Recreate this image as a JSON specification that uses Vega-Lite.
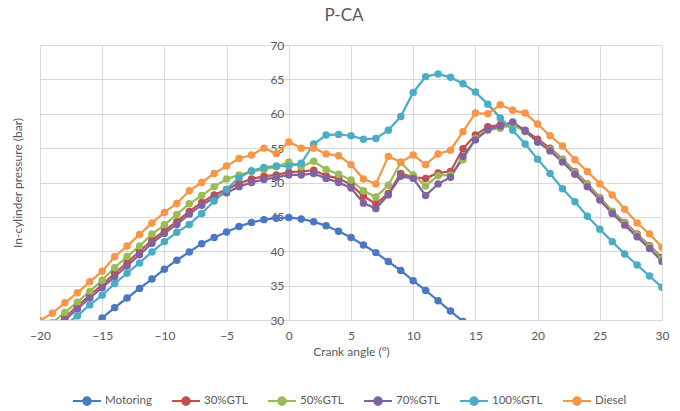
{
  "$schema": "https://vega.github.io/schema/vega-lite/v6.json",
  "width": 622,
  "height": 275,
  "autosize": {"type": "none"},
  "padding": {"left": 40, "top": 45, "right": 18, "bottom": 91},
  "background": "white",
  "config": {"view": {"stroke": null}, "font": "Lato"},
  "title": {"text": "P-CA", "fontSize": 17, "fontWeight": "normal", "color": "#595959", "dx": -7, "offset": 14, "anchor": "middle"},
  "datasets": {
    "pressure": [
      {"series": "Motoring", "angle": -16, "pressure": 28.9},
      {"series": "Motoring", "angle": -15, "pressure": 30.3},
      {"series": "Motoring", "angle": -14, "pressure": 31.8},
      {"series": "Motoring", "angle": -13, "pressure": 33.2},
      {"series": "Motoring", "angle": -12, "pressure": 34.6},
      {"series": "Motoring", "angle": -11, "pressure": 35.95},
      {"series": "Motoring", "angle": -10, "pressure": 37.4},
      {"series": "Motoring", "angle": -9, "pressure": 38.7},
      {"series": "Motoring", "angle": -8, "pressure": 39.9},
      {"series": "Motoring", "angle": -7, "pressure": 41.1},
      {"series": "Motoring", "angle": -6, "pressure": 42.0},
      {"series": "Motoring", "angle": -5, "pressure": 42.8},
      {"series": "Motoring", "angle": -4, "pressure": 43.6},
      {"series": "Motoring", "angle": -3, "pressure": 44.2},
      {"series": "Motoring", "angle": -2, "pressure": 44.6},
      {"series": "Motoring", "angle": -1, "pressure": 44.8},
      {"series": "Motoring", "angle": 0, "pressure": 44.9},
      {"series": "Motoring", "angle": 1, "pressure": 44.7},
      {"series": "Motoring", "angle": 2, "pressure": 44.3},
      {"series": "Motoring", "angle": 3, "pressure": 43.7},
      {"series": "Motoring", "angle": 4, "pressure": 42.9},
      {"series": "Motoring", "angle": 5, "pressure": 42.0},
      {"series": "Motoring", "angle": 6, "pressure": 40.9},
      {"series": "Motoring", "angle": 7, "pressure": 39.8},
      {"series": "Motoring", "angle": 8, "pressure": 38.5},
      {"series": "Motoring", "angle": 9, "pressure": 37.2},
      {"series": "Motoring", "angle": 10, "pressure": 35.7},
      {"series": "Motoring", "angle": 11, "pressure": 34.3},
      {"series": "Motoring", "angle": 12, "pressure": 32.8},
      {"series": "Motoring", "angle": 13, "pressure": 31.3},
      {"series": "Motoring", "angle": 14, "pressure": 29.8},
      {"series": "Motoring", "angle": 15, "pressure": 28.3},

      {"series": "30%GTL", "angle": -19, "pressure": 28.9},
      {"series": "30%GTL", "angle": -18, "pressure": 30.4},
      {"series": "30%GTL", "angle": -17, "pressure": 32.0},
      {"series": "30%GTL", "angle": -16, "pressure": 33.6},
      {"series": "30%GTL", "angle": -15, "pressure": 35.1},
      {"series": "30%GTL", "angle": -14, "pressure": 36.8},
      {"series": "30%GTL", "angle": -13, "pressure": 38.3},
      {"series": "30%GTL", "angle": -12, "pressure": 40.0},
      {"series": "30%GTL", "angle": -11, "pressure": 41.6},
      {"series": "30%GTL", "angle": -10, "pressure": 43.0},
      {"series": "30%GTL", "angle": -9, "pressure": 44.3},
      {"series": "30%GTL", "angle": -8, "pressure": 45.8},
      {"series": "30%GTL", "angle": -7, "pressure": 47.1},
      {"series": "30%GTL", "angle": -6, "pressure": 48.2},
      {"series": "30%GTL", "angle": -5, "pressure": 49.0},
      {"series": "30%GTL", "angle": -4, "pressure": 49.9},
      {"series": "30%GTL", "angle": -3, "pressure": 50.5},
      {"series": "30%GTL", "angle": -2, "pressure": 50.9},
      {"series": "30%GTL", "angle": -1, "pressure": 51.1},
      {"series": "30%GTL", "angle": 0, "pressure": 51.5},
      {"series": "30%GTL", "angle": 1, "pressure": 51.6},
      {"series": "30%GTL", "angle": 2, "pressure": 51.8},
      {"series": "30%GTL", "angle": 3, "pressure": 51.0},
      {"series": "30%GTL", "angle": 4, "pressure": 50.6},
      {"series": "30%GTL", "angle": 5, "pressure": 49.7},
      {"series": "30%GTL", "angle": 6, "pressure": 48.0},
      {"series": "30%GTL", "angle": 7, "pressure": 46.9},
      {"series": "30%GTL", "angle": 8, "pressure": 48.4},
      {"series": "30%GTL", "angle": 9, "pressure": 51.3},
      {"series": "30%GTL", "angle": 10, "pressure": 50.75},
      {"series": "30%GTL", "angle": 11, "pressure": 50.6},
      {"series": "30%GTL", "angle": 12, "pressure": 51.4},
      {"series": "30%GTL", "angle": 13, "pressure": 51.6},
      {"series": "30%GTL", "angle": 14, "pressure": 54.9},
      {"series": "30%GTL", "angle": 15, "pressure": 56.9},
      {"series": "30%GTL", "angle": 16, "pressure": 58.1},
      {"series": "30%GTL", "angle": 17, "pressure": 58.4},
      {"series": "30%GTL", "angle": 18, "pressure": 58.6},
      {"series": "30%GTL", "angle": 19, "pressure": 57.6},
      {"series": "30%GTL", "angle": 20, "pressure": 56.3},
      {"series": "30%GTL", "angle": 21, "pressure": 55.0},
      {"series": "30%GTL", "angle": 22, "pressure": 53.4},
      {"series": "30%GTL", "angle": 23, "pressure": 51.6},
      {"series": "30%GTL", "angle": 24, "pressure": 49.8},
      {"series": "30%GTL", "angle": 25, "pressure": 47.8},
      {"series": "30%GTL", "angle": 26, "pressure": 45.8},
      {"series": "30%GTL", "angle": 27, "pressure": 44.2},
      {"series": "30%GTL", "angle": 28, "pressure": 42.5},
      {"series": "30%GTL", "angle": 29, "pressure": 40.8},
      {"series": "30%GTL", "angle": 30, "pressure": 39.1},

      {"series": "50%GTL", "angle": -19, "pressure": 29.6},
      {"series": "50%GTL", "angle": -18, "pressure": 31.1},
      {"series": "50%GTL", "angle": -17, "pressure": 32.6},
      {"series": "50%GTL", "angle": -16, "pressure": 34.15},
      {"series": "50%GTL", "angle": -15, "pressure": 35.8},
      {"series": "50%GTL", "angle": -14, "pressure": 37.6},
      {"series": "50%GTL", "angle": -13, "pressure": 39.25},
      {"series": "50%GTL", "angle": -12, "pressure": 40.75},
      {"series": "50%GTL", "angle": -11, "pressure": 42.5},
      {"series": "50%GTL", "angle": -10, "pressure": 43.85},
      {"series": "50%GTL", "angle": -9, "pressure": 45.35},
      {"series": "50%GTL", "angle": -8, "pressure": 46.9},
      {"series": "50%GTL", "angle": -7, "pressure": 48.1},
      {"series": "50%GTL", "angle": -6, "pressure": 49.4},
      {"series": "50%GTL", "angle": -5, "pressure": 50.5},
      {"series": "50%GTL", "angle": -4, "pressure": 51.1},
      {"series": "50%GTL", "angle": -3, "pressure": 51.6},
      {"series": "50%GTL", "angle": -2, "pressure": 51.9},
      {"series": "50%GTL", "angle": -1, "pressure": 52.3},
      {"series": "50%GTL", "angle": 0, "pressure": 53.0},
      {"series": "50%GTL", "angle": 1, "pressure": 52.3},
      {"series": "50%GTL", "angle": 2, "pressure": 53.1},
      {"series": "50%GTL", "angle": 3, "pressure": 51.9},
      {"series": "50%GTL", "angle": 4, "pressure": 51.2},
      {"series": "50%GTL", "angle": 5, "pressure": 50.35},
      {"series": "50%GTL", "angle": 6, "pressure": 48.8},
      {"series": "50%GTL", "angle": 7, "pressure": 47.9},
      {"series": "50%GTL", "angle": 8, "pressure": 49.6},
      {"series": "50%GTL", "angle": 9, "pressure": 52.9},
      {"series": "50%GTL", "angle": 10, "pressure": 51.1},
      {"series": "50%GTL", "angle": 11, "pressure": 49.5},
      {"series": "50%GTL", "angle": 12, "pressure": 51.0},
      {"series": "50%GTL", "angle": 13, "pressure": 51.1},
      {"series": "50%GTL", "angle": 14, "pressure": 53.3},
      {"series": "50%GTL", "angle": 15, "pressure": 56.4},
      {"series": "50%GTL", "angle": 16, "pressure": 57.6},
      {"series": "50%GTL", "angle": 17, "pressure": 57.9},
      {"series": "50%GTL", "angle": 18, "pressure": 58.4},
      {"series": "50%GTL", "angle": 19, "pressure": 57.4},
      {"series": "50%GTL", "angle": 20, "pressure": 55.9},
      {"series": "50%GTL", "angle": 21, "pressure": 54.8},
      {"series": "50%GTL", "angle": 22, "pressure": 53.3},
      {"series": "50%GTL", "angle": 23, "pressure": 51.5},
      {"series": "50%GTL", "angle": 24, "pressure": 49.7},
      {"series": "50%GTL", "angle": 25, "pressure": 47.7},
      {"series": "50%GTL", "angle": 26, "pressure": 45.8},
      {"series": "50%GTL", "angle": 27, "pressure": 44.1},
      {"series": "50%GTL", "angle": 28, "pressure": 42.4},
      {"series": "50%GTL", "angle": 29, "pressure": 40.7},
      {"series": "50%GTL", "angle": 30, "pressure": 38.9},

      {"series": "70%GTL", "angle": -19, "pressure": 28.4},
      {"series": "70%GTL", "angle": -18, "pressure": 30.0},
      {"series": "70%GTL", "angle": -17, "pressure": 31.6},
      {"series": "70%GTL", "angle": -16, "pressure": 33.2},
      {"series": "70%GTL", "angle": -15, "pressure": 34.7},
      {"series": "70%GTL", "angle": -14, "pressure": 36.3},
      {"series": "70%GTL", "angle": -13, "pressure": 37.85},
      {"series": "70%GTL", "angle": -12, "pressure": 39.5},
      {"series": "70%GTL", "angle": -11, "pressure": 41.15},
      {"series": "70%GTL", "angle": -10, "pressure": 42.6},
      {"series": "70%GTL", "angle": -9, "pressure": 43.9},
      {"series": "70%GTL", "angle": -8, "pressure": 45.4},
      {"series": "70%GTL", "angle": -7, "pressure": 46.7},
      {"series": "70%GTL", "angle": -6, "pressure": 47.8},
      {"series": "70%GTL", "angle": -5, "pressure": 48.5},
      {"series": "70%GTL", "angle": -4, "pressure": 49.4},
      {"series": "70%GTL", "angle": -3, "pressure": 50.0},
      {"series": "70%GTL", "angle": -2, "pressure": 50.45},
      {"series": "70%GTL", "angle": -1, "pressure": 50.75},
      {"series": "70%GTL", "angle": 0, "pressure": 51.1},
      {"series": "70%GTL", "angle": 1, "pressure": 51.1},
      {"series": "70%GTL", "angle": 2, "pressure": 51.3},
      {"series": "70%GTL", "angle": 3, "pressure": 50.6},
      {"series": "70%GTL", "angle": 4, "pressure": 50.0},
      {"series": "70%GTL", "angle": 5, "pressure": 49.2},
      {"series": "70%GTL", "angle": 6, "pressure": 47.0},
      {"series": "70%GTL", "angle": 7, "pressure": 46.2},
      {"series": "70%GTL", "angle": 8, "pressure": 48.2},
      {"series": "70%GTL", "angle": 9, "pressure": 50.9},
      {"series": "70%GTL", "angle": 10, "pressure": 50.6},
      {"series": "70%GTL", "angle": 11, "pressure": 48.1},
      {"series": "70%GTL", "angle": 12, "pressure": 49.8},
      {"series": "70%GTL", "angle": 13, "pressure": 50.75},
      {"series": "70%GTL", "angle": 14, "pressure": 53.8},
      {"series": "70%GTL", "angle": 15, "pressure": 56.2},
      {"series": "70%GTL", "angle": 16, "pressure": 57.7},
      {"series": "70%GTL", "angle": 17, "pressure": 58.2},
      {"series": "70%GTL", "angle": 18, "pressure": 58.8},
      {"series": "70%GTL", "angle": 19, "pressure": 57.5},
      {"series": "70%GTL", "angle": 20, "pressure": 55.9},
      {"series": "70%GTL", "angle": 21, "pressure": 54.6},
      {"series": "70%GTL", "angle": 22, "pressure": 53.0},
      {"series": "70%GTL", "angle": 23, "pressure": 51.2},
      {"series": "70%GTL", "angle": 24, "pressure": 49.4},
      {"series": "70%GTL", "angle": 25, "pressure": 47.45},
      {"series": "70%GTL", "angle": 26, "pressure": 45.5},
      {"series": "70%GTL", "angle": 27, "pressure": 43.8},
      {"series": "70%GTL", "angle": 28, "pressure": 42.1},
      {"series": "70%GTL", "angle": 29, "pressure": 40.4},
      {"series": "70%GTL", "angle": 30, "pressure": 38.5},

      {"series": "100%GTL", "angle": -18, "pressure": 29.2},
      {"series": "100%GTL", "angle": -17, "pressure": 30.6},
      {"series": "100%GTL", "angle": -16, "pressure": 32.2},
      {"series": "100%GTL", "angle": -15, "pressure": 33.6},
      {"series": "100%GTL", "angle": -14, "pressure": 35.3},
      {"series": "100%GTL", "angle": -13, "pressure": 36.8},
      {"series": "100%GTL", "angle": -12, "pressure": 38.3},
      {"series": "100%GTL", "angle": -11, "pressure": 39.9},
      {"series": "100%GTL", "angle": -10, "pressure": 41.4},
      {"series": "100%GTL", "angle": -9, "pressure": 42.75},
      {"series": "100%GTL", "angle": -8, "pressure": 43.9},
      {"series": "100%GTL", "angle": -7, "pressure": 45.5},
      {"series": "100%GTL", "angle": -6, "pressure": 47.3},
      {"series": "100%GTL", "angle": -5, "pressure": 49.0},
      {"series": "100%GTL", "angle": -4, "pressure": 50.7},
      {"series": "100%GTL", "angle": -3, "pressure": 51.7},
      {"series": "100%GTL", "angle": -2, "pressure": 52.2},
      {"series": "100%GTL", "angle": -1, "pressure": 52.4},
      {"series": "100%GTL", "angle": 0, "pressure": 52.4},
      {"series": "100%GTL", "angle": 1, "pressure": 52.8},
      {"series": "100%GTL", "angle": 2, "pressure": 55.6},
      {"series": "100%GTL", "angle": 3, "pressure": 56.9},
      {"series": "100%GTL", "angle": 4, "pressure": 57.0},
      {"series": "100%GTL", "angle": 5, "pressure": 56.8},
      {"series": "100%GTL", "angle": 6, "pressure": 56.3},
      {"series": "100%GTL", "angle": 7, "pressure": 56.4},
      {"series": "100%GTL", "angle": 8, "pressure": 57.6},
      {"series": "100%GTL", "angle": 9, "pressure": 59.6},
      {"series": "100%GTL", "angle": 10, "pressure": 63.1},
      {"series": "100%GTL", "angle": 11, "pressure": 65.4},
      {"series": "100%GTL", "angle": 12, "pressure": 65.8},
      {"series": "100%GTL", "angle": 13, "pressure": 65.3},
      {"series": "100%GTL", "angle": 14, "pressure": 64.35},
      {"series": "100%GTL", "angle": 15, "pressure": 63.15},
      {"series": "100%GTL", "angle": 16, "pressure": 61.4},
      {"series": "100%GTL", "angle": 17, "pressure": 59.4},
      {"series": "100%GTL", "angle": 18, "pressure": 57.6},
      {"series": "100%GTL", "angle": 19, "pressure": 55.6},
      {"series": "100%GTL", "angle": 20, "pressure": 53.4},
      {"series": "100%GTL", "angle": 21, "pressure": 51.3},
      {"series": "100%GTL", "angle": 22, "pressure": 49.1},
      {"series": "100%GTL", "angle": 23, "pressure": 47.2},
      {"series": "100%GTL", "angle": 24, "pressure": 45.1},
      {"series": "100%GTL", "angle": 25, "pressure": 43.2},
      {"series": "100%GTL", "angle": 26, "pressure": 41.4},
      {"series": "100%GTL", "angle": 27, "pressure": 39.6},
      {"series": "100%GTL", "angle": 28, "pressure": 38.0},
      {"series": "100%GTL", "angle": 29, "pressure": 36.4},
      {"series": "100%GTL", "angle": 30, "pressure": 34.75},

      {"series": "Diesel", "angle": -20, "pressure": 29.9},
      {"series": "Diesel", "angle": -19, "pressure": 31.0},
      {"series": "Diesel", "angle": -18, "pressure": 32.5},
      {"series": "Diesel", "angle": -17, "pressure": 33.95},
      {"series": "Diesel", "angle": -16, "pressure": 35.55},
      {"series": "Diesel", "angle": -15, "pressure": 37.1},
      {"series": "Diesel", "angle": -14, "pressure": 39.2},
      {"series": "Diesel", "angle": -13, "pressure": 40.75},
      {"series": "Diesel", "angle": -12, "pressure": 42.45},
      {"series": "Diesel", "angle": -11, "pressure": 44.1},
      {"series": "Diesel", "angle": -10, "pressure": 45.65},
      {"series": "Diesel", "angle": -9, "pressure": 46.95},
      {"series": "Diesel", "angle": -8, "pressure": 48.8},
      {"series": "Diesel", "angle": -7, "pressure": 50.0},
      {"series": "Diesel", "angle": -6, "pressure": 51.3},
      {"series": "Diesel", "angle": -5, "pressure": 52.4},
      {"series": "Diesel", "angle": -4, "pressure": 53.5},
      {"series": "Diesel", "angle": -3, "pressure": 54.0},
      {"series": "Diesel", "angle": -2, "pressure": 55.0},
      {"series": "Diesel", "angle": -1, "pressure": 54.2},
      {"series": "Diesel", "angle": 0, "pressure": 55.9},
      {"series": "Diesel", "angle": 1, "pressure": 55.0},
      {"series": "Diesel", "angle": 2, "pressure": 55.0},
      {"series": "Diesel", "angle": 3, "pressure": 54.15},
      {"series": "Diesel", "angle": 4, "pressure": 53.9},
      {"series": "Diesel", "angle": 5, "pressure": 52.6},
      {"series": "Diesel", "angle": 6, "pressure": 50.5},
      {"series": "Diesel", "angle": 7, "pressure": 49.8},
      {"series": "Diesel", "angle": 8, "pressure": 53.8},
      {"series": "Diesel", "angle": 9, "pressure": 53.0},
      {"series": "Diesel", "angle": 10, "pressure": 54.0},
      {"series": "Diesel", "angle": 11, "pressure": 52.6},
      {"series": "Diesel", "angle": 12, "pressure": 54.15},
      {"series": "Diesel", "angle": 13, "pressure": 54.7},
      {"series": "Diesel", "angle": 14, "pressure": 57.4},
      {"series": "Diesel", "angle": 15, "pressure": 60.1},
      {"series": "Diesel", "angle": 16, "pressure": 60.0},
      {"series": "Diesel", "angle": 17, "pressure": 61.3},
      {"series": "Diesel", "angle": 18, "pressure": 60.5},
      {"series": "Diesel", "angle": 19, "pressure": 60.1},
      {"series": "Diesel", "angle": 20, "pressure": 58.5},
      {"series": "Diesel", "angle": 21, "pressure": 56.8},
      {"series": "Diesel", "angle": 22, "pressure": 55.3},
      {"series": "Diesel", "angle": 23, "pressure": 53.3},
      {"series": "Diesel", "angle": 24, "pressure": 51.6},
      {"series": "Diesel", "angle": 25, "pressure": 49.8},
      {"series": "Diesel", "angle": 26, "pressure": 48.2},
      {"series": "Diesel", "angle": 27, "pressure": 46.1},
      {"series": "Diesel", "angle": 28, "pressure": 44.1},
      {"series": "Diesel", "angle": 29, "pressure": 42.5},
      {"series": "Diesel", "angle": 30, "pressure": 40.6}
    ]
  },
  "data": {"name": "pressure"},
  "mark": {
    "type": "line",
    "strokeWidth": 2.25,
    "clip": true,
    "point": {"filled": true, "size": 56, "opacity": 1}
  },
  "encoding": {
    "x": {
      "field": "angle",
      "type": "quantitative",
      "scale": {"domain": [-20, 30], "nice": false, "zero": false},
      "axis": {
        "values": [-20, -15, -10, -5, 0, 5, 10, 15, 20, 25, 30],
        "title": "Crank angle (°)",
        "titleFontSize": 12,
        "titleFontWeight": "normal",
        "titleColor": "#595959",
        "titlePadding": 5,
        "labelColor": "#595959",
        "labelFontSize": 12,
        "labelPadding": 10,
        "ticks": false,
        "domainColor": "#d9d9d9",
        "gridColor": "#d9d9d9",
        "labelFlush": false
      }
    },
    "y": {
      "field": "pressure",
      "type": "quantitative",
      "scale": {"domain": [30, 70], "nice": false, "zero": false},
      "axis": {
        "values": [30, 35, 40, 45, 50, 55, 60, 65, 70],
        "offset": -248.8,
        "domain": false,
        "ticks": false,
        "labelPadding": 5,
        "labelColor": "#595959",
        "labelFontSize": 12,
        "labelFlush": false,
        "gridColor": "#d9d9d9",
        "title": "In-cylinder pressure (bar)",
        "titleFontSize": 12,
        "titleFontWeight": "normal",
        "titleColor": "#595959",
        "titleX": -271,
        "titleY": 137.5,
        "titleAlign": "center",
        "titleBaseline": "middle",
        "titleAngle": -90
      }
    },
    "color": {
      "field": "series",
      "type": "nominal",
      "scale": {
        "domain": ["Motoring", "30%GTL", "50%GTL", "70%GTL", "100%GTL", "Diesel"],
        "range": ["#4a78c2", "#c0504d", "#9bbb59", "#8064a2", "#4bacc6", "#f79646"]
      },
      "legend": {
        "title": null,
        "orient": "none",
        "direction": "horizontal",
        "legendX": 32,
        "legendY": 341,
        "labelFontSize": 11.5,
        "labelColor": "#595959",
        "labelOffset": 3,
        "columnPadding": 16,
        "symbolType": "M-1,0L1,0M0.27,0A0.27,0.27,0,1,1,-0.27,0A0.27,0.27,0,1,1,0.27,0Z",
        "symbolSize": 784,
        "symbolStrokeWidth": 2,
        "encode": {
          "symbols": {
            "update": {
              "fill": {"scale": "color", "field": "value"},
              "stroke": {"scale": "color", "field": "value"},
              "opacity": {"value": 1}
            }
          }
        }
      }
    }
  }
}
